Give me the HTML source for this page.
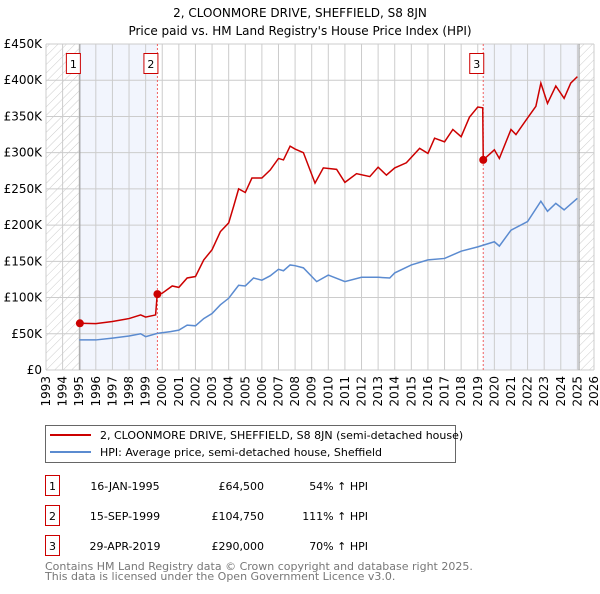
<!DOCTYPE html>
<html><head><meta charset="utf-8"><style>
body{margin:0;background:#fff;width:600px;height:590px;overflow:hidden;font-family:"DejaVu Sans","Liberation Sans",sans-serif}
svg text{font-family:"DejaVu Sans","Liberation Sans",sans-serif}
</style></head><body>
<svg id="chart" width="600" height="590" xmlns="http://www.w3.org/2000/svg">
<defs><pattern id="hatch" patternUnits="userSpaceOnUse" width="6" height="6" patternTransform="rotate(45)"><line x1="0" y1="0" x2="0" y2="6" stroke="#ccc" stroke-width="1"/></pattern></defs>
<text x="300" y="17" text-anchor="middle" font-size="12">2, CLOONMORE DRIVE, SHEFFIELD, S8 8JN</text>
<text x="300" y="35" text-anchor="middle" font-size="12">Price paid vs. HM Land Registry's House Price Index (HPI)</text>
<g id="plot"></g>
<g>
<rect x="45.5" y="425.5" width="410" height="37" fill="#fff" stroke="#666"/>
<line x1="50" y1="435" x2="91" y2="435" stroke="#cc0000" stroke-width="2"/>
<text x="100" y="439" font-size="11">2, CLOONMORE DRIVE, SHEFFIELD, S8 8JN (semi-detached house)</text>
<line x1="50" y1="452" x2="91" y2="452" stroke="#5b8bd0" stroke-width="2"/>
<text x="100" y="456" font-size="11">HPI: Average price, semi-detached house, Sheffield</text>
</g>
<g id="table" font-size="11"></g>
<text x="45" y="570" font-size="11" fill="#777">Contains HM Land Registry data © Crown copyright and database right 2025.</text>
<text x="45" y="580" font-size="11" fill="#777">This data is licensed under the Open Government Licence v3.0.</text>
</svg>
<script>
const hpiYears=[1995,1996,1997,1998,1998.7,1999,1999.7,2000.5,2001,2001.5,2002,2002.5,2003,2003.5,2004,2004.3,2004.6,2005,2005.5,2006,2006.5,2007,2007.3,2007.7,2008,2008.5,2009.3,2010,2011,2012,2013,2013.7,2014,2015,2016,2017,2018,2019,2020,2020.3,2021,2022,2022.8,2023.2,2023.7,2024.2,2025];
const hpiValues=[41.5,41.5,44,47,50,46,50.5,53,55,62,61,71,78,90,99,108,117,116,127,124,130,139,137,145,144,141,122,131,122,128,128,127,134,145,152,154,164,170,177,171,193,205,233,219,230,221,237];
const redYears=[1995.04,1996,1997,1998,1998.7,1999,1999.6,1999.7,2000,2000.6,2001,2001.5,2002,2002.5,2003,2003.5,2004,2004.3,2004.6,2005,2005.4,2006,2006.5,2007,2007.3,2007.7,2008,2008.5,2009.2,2009.7,2010.5,2011,2011.7,2012.5,2013,2013.5,2014,2014.7,2015.5,2016,2016.4,2017,2017.5,2018,2018.5,2019,2019.3,2019.33,2020,2020.3,2021,2021.3,2022,2022.5,2022.8,2023.2,2023.7,2024.2,2024.6,2025];
const redValues=[64.5,64,67,71,76,73,76,105,106,116,114,127,129,152,166,191,203,226,250,245,265,265,276,292,290,309,305,300,258,279,277,259,271,267,280,269,279,286,306,299,320,315,332,322,349,363,362,290,304,292,332,325,348,364,396,368,392,375,396,405];
const saleYears=[1995.04,1999.71,2019.33];
const salePrices=[64.5,104.75,290];
const saleLabels=["1","2","3"];
const saleDates=["16-JAN-1995","15-SEP-1999","29-APR-2019"];
const salePriceText=["£64,500","£104,750","£290,000"];
const saleHpiText=["54% ↑ HPI","111% ↑ HPI","70% ↑ HPI"];
const yTicks=[0,50,100,150,200,250,300,350,400,450];
const yTickLabels=["£0","£50K","£100K","£150K","£200K","£250K","£300K","£350K","£400K","£450K"];
const xTicks=[1993,1994,1995,1996,1997,1998,1999,2000,2001,2002,2003,2004,2005,2006,2007,2008,2009,2010,2011,2012,2013,2014,2015,2016,2017,2018,2019,2020,2021,2022,2023,2024,2025,2026];

const X0=46,X1=594,Y0=370,Y1=44;
const xs=y=>X0+(y-1993)/(2026-1993)*(X1-X0);
const ys=v=>Y0-v/450*(Y0-Y1);
const NS="http://www.w3.org/2000/svg";
const plot=document.getElementById('plot');
function mk(tag,attrs,parent){const e=document.createElementNS(NS,tag);for(const k in attrs)e.setAttribute(k,attrs[k]);(parent||plot).appendChild(e);return e;}

let e;
e=mk('rect',{x:xs(1993),y:Y1,width:xs(1995.04)-xs(1993),height:Y0-Y1,fill:'url(#hatch)'});


e=mk('rect',{x:xs(2025.1),y:Y1,width:xs(2026)-xs(2025.1),height:Y0-Y1,fill:'url(#hatch)'});


e=mk('rect',{x:xs(1995.04),y:Y1,width:xs(1999.71)-xs(1995.04),height:Y0-Y1,fill:'#f2f5fd'});


e=mk('rect',{x:xs(2019.33),y:Y1,width:xs(2025.1)-xs(2019.33),height:Y0-Y1,fill:'#f2f5fd'});



yTicks.forEach((t,i)=>{
  e=mk('line',{x1:X0,x2:X1,y1:ys(t),y2:ys(t),stroke:'#ccc','stroke-width':1});
  
  
  e=mk('text',{x:X0-4,y:ys(t)+4,'text-anchor':'end','font-size':12});
  e.textContent=yTickLabels[i];
  
  
});
xTicks.forEach(t=>{
  e=mk('line',{x1:xs(t),x2:xs(t),y1:Y1,y2:Y0,stroke:'#ccc','stroke-width':1});
  
  
  e=mk('text',{x:0,y:0,'text-anchor':'end','font-size':12,transform:`translate(${xs(t)+4},${Y0+6}) rotate(-90)`});
  e.textContent=t;
  
  
});
e=mk('line',{x1:xs(1995.04),x2:xs(1995.04),y1:Y1,y2:Y0,stroke:'#999','stroke-width':1});


e=mk('line',{x1:xs(2025.1),x2:xs(2025.1),y1:Y1,y2:Y0,stroke:'#999','stroke-width':1});


[1,2].forEach(i=>{
  e=mk('line',{x1:xs(saleYears[i]),x2:xs(saleYears[i]),y1:Y1,y2:Y0,stroke:'#f06060','stroke-width':1,'stroke-dasharray':'2,2'});
  
  
});

e=mk('polyline',{points:hpiYears.map((y,i)=>xs(y)+','+ys(hpiValues[i])).join(' '),fill:'none',stroke:'#5b8bd0','stroke-width':1.5});


e=mk('polyline',{points:redYears.map((y,i)=>xs(y)+','+ys(redValues[i])).join(' '),fill:'none',stroke:'#cc0000','stroke-width':1.5});



saleYears.forEach((y,i)=>{
  e=mk('circle',{cx:xs(y),cy:ys(salePrices[i]),r:4,fill:'#cc0000'});
  
  
  const bx=xs(y)-(i==2?11:11);
  e=mk('rect',{x:xs(y)-13.5,y:53.5,width:14,height:20,fill:'#fff',stroke:'#cc0000'});
  
  
  e=mk('text',{x:xs(y)-6.5,y:68,'text-anchor':'middle','font-size':11});
  e.textContent=saleLabels[i];
  
  
});

const tbl=document.getElementById('table');
saleLabels.forEach((l,i)=>{
  const y=475+i*30;
  e=mk('rect',{x:45.5,y:y+0.5,width:14,height:20,fill:'#fff',stroke:'#cc0000'},tbl);
  
  
  e=mk('text',{x:52.5,y:y+15,'text-anchor':'middle'},tbl);e.textContent=l;
  
  
  e=mk('text',{x:125,y:y+15,'text-anchor':'middle'},tbl);e.textContent=saleDates[i];
  
  
  e=mk('text',{x:264,y:y+15,'text-anchor':'end'},tbl);e.textContent=salePriceText[i];
  
  
  e=mk('text',{x:368,y:y+15,'text-anchor':'end'},tbl);e.textContent=saleHpiText[i];
  
  
});
</script>
</body></html>
